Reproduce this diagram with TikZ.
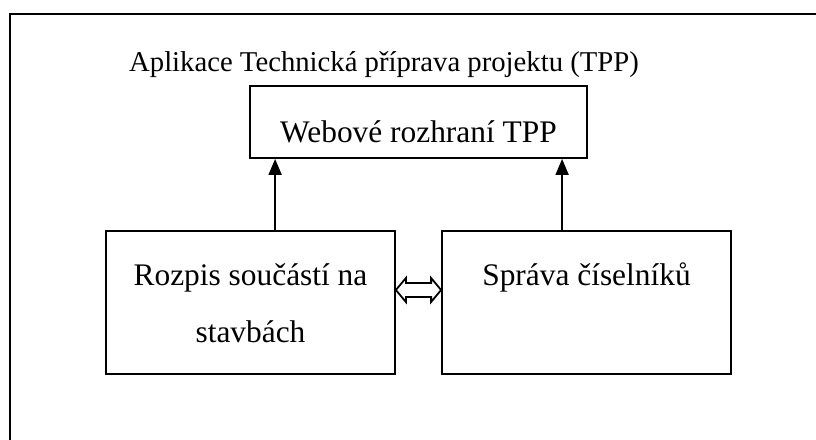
\documentclass[tikz,border=0pt]{standalone}
\usepackage{fontspec}
\setmainfont{Liberation Serif}
\usetikzlibrary{arrows.meta,calc}

\tikzset{
  box/.style={draw, line width=1.8pt, minimum width=289pt, minimum height=143pt, inner sep=0pt},
  boxtext/.style={anchor=base, inner sep=0pt, font=\fontsize{31.4}{37}\selectfont},
  titletext/.style={anchor=base, inner sep=0pt, font=\fontsize{28.7}{34}\selectfont},
  uparrow/.style={line width=1.8pt, -{Triangle[length=16pt,width=13pt]}},
  hollow/.style={draw, line width=1.8pt, line join=miter, fill=white}
}

\begin{document}
\begin{tikzpicture}[x=1pt,y=-1pt]
  \useasboundingbox (0,0) rectangle (816,439);
  \clip (0,0) rectangle (816,439);

  % outer frame (continues past the right and bottom edges)
  \draw[line width=1.8pt] (10,14) rectangle (900,520);

  % title
  \node[titletext] (title) at (384,71) {Aplikace Technická příprava projektu (TPP)};

  % boxes
  \node[box, minimum width=337pt, minimum height=72pt] (web) at (418.5,122) {};
  \node[box] (L) at (250.5,302.5) {};
  \node[box] (R) at (586.5,302.5) {};

  % box labels
  \node[boxtext] (webt) at ($(web.center)+(0,20)$) {Webové rozhraní TPP};
  \node[boxtext] (Lt1) at ($(L.center)+(0,-17.5)$) {Rozpis součástí na};
  \node[boxtext] (Lt2) at ($(L.center)+(0,39.5)$) {stavbách};
  \node[boxtext] (Rt) at ($(R.center)+(0,-17.5)$) {Správa číselníků};

  % upward connectors
  \coordinate (a1) at ($(L.north west)+(170,0)$);
  \coordinate (a2) at ($(R.north west)+(121,0)$);
  \draw[uparrow] (a1) -- (a1 |- web.south);
  \draw[uparrow] (a2) -- (a2 |- web.south);

  % hollow double arrow between the lower boxes
  \coordinate (p) at ($(L.east)+(0,-12.5)$);
  \coordinate (q) at ($(R.west)+(0,-12.5)$);
  \draw[hollow] (p) -- ($(p)+(10,-12)$) -- ($(p)+(10,-7)$)
        -- ($(q)+(-10,-7)$) -- ($(q)+(-10,-12)$) -- (q)
        -- ($(q)+(-10,12)$) -- ($(q)+(-10,7)$)
        -- ($(p)+(10,7)$) -- ($(p)+(10,12)$) -- cycle;
\end{tikzpicture}
\end{document}
